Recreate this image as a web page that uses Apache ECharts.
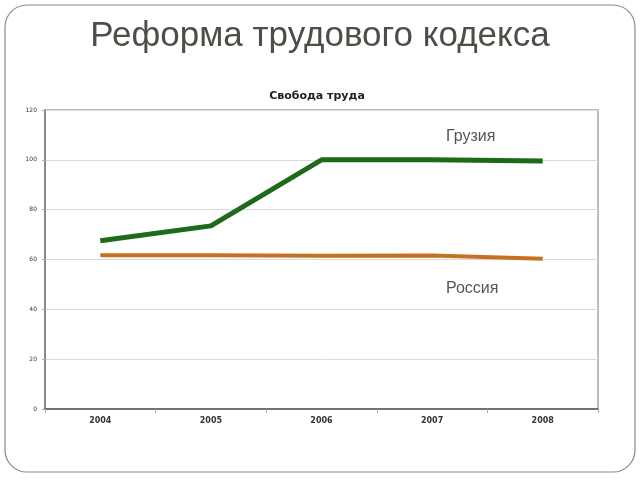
<!DOCTYPE html>
<html><head><meta charset="utf-8">
<script src="https://cdn.jsdelivr.net/npm/echarts@6/dist/echarts.min.js"></script>
<style>html,body{margin:0;padding:0;background:#fff}#c{width:640px;height:480px}</style>
</head><body><div id="c"></div>
<script>
const years = ['2004','2005','2006','2007','2008'];
const georgia = [67.5, 73.5, 100, 100, 99.5];
const russia = [61.7, 61.7, 61.5, 61.6, 60.3];
const yTicks = [0, 20, 40, 60, 80, 100, 120];

const chart = echarts.init(document.getElementById('c'));
chart.setOption({
  animation: false,
  backgroundColor: '#fff',
  title: [{
    text: 'Реформа трудового кодекса', left: 'center', top: 14,
    textStyle: {fontFamily: 'Liberation Sans', fontSize: 35, fontWeight: 'normal', color: '#4e4e48'}
  }, {
    text: 'Свобода труда', left: 312, top: 86, textAlign: 'center',
    textStyle: {fontFamily: 'DejaVu Sans', fontSize: 11, fontWeight: 'bold', color: '#222'}
  }],
  graphic: [{
    type: 'rect', shape: {x: 5, y: 5, width: 630, height: 467, r: 22},
    style: {fill: 'none', stroke: '#8a8a8a', lineWidth: 1.2}, z: -1
  }, {
    type: 'text', left: 446, top: 129,
    style: {text: 'Грузия', fontFamily: 'Liberation Sans', fontSize: 16, fill: '#555'}
  }, {
    type: 'text', left: 446, top: 281,
    style: {text: 'Россия', fontFamily: 'Liberation Sans', fontSize: 16, fill: '#555'}
  }],
  grid: {left: 45, right: 42, top: 110, bottom: 71, show: true, borderColor: '#a8a8a8', borderWidth: 1.5},
  xAxis: {
    type: 'category', data: years, boundaryGap: true,
    axisLine: {lineStyle: {color: '#555', width: 1.5}},
    axisTick: {show: true, length: 4, lineStyle: {color: '#aaa'}},
    axisLabel: {fontFamily: 'DejaVu Sans', fontSize: 8, fontWeight: 'bold', color: '#333', margin: 8}
  },
  yAxis: {
    type: 'value', min: 0, max: 120, interval: 20,
    axisLine: {show: true, lineStyle: {color: '#777', width: 1.5}},
    axisTick: {show: true, length: 3, lineStyle: {color: '#aaa'}},
    splitLine: {lineStyle: {color: '#d9d9d9'}},
    axisLabel: {fontFamily: 'DejaVu Sans', fontSize: 6, color: '#333', margin: 8,
      formatter: v => yTicks.includes(v) ? String(v) : ''}
  },
  series: [{
    name: 'Грузия', type: 'line', data: georgia, symbol: 'none',
    lineStyle: {color: '#1d6b1a', width: 5}
  }, {
    name: 'Россия', type: 'line', data: russia, symbol: 'none',
    lineStyle: {color: '#c6711f', width: 4}
  }]
});
</script></body></html>
